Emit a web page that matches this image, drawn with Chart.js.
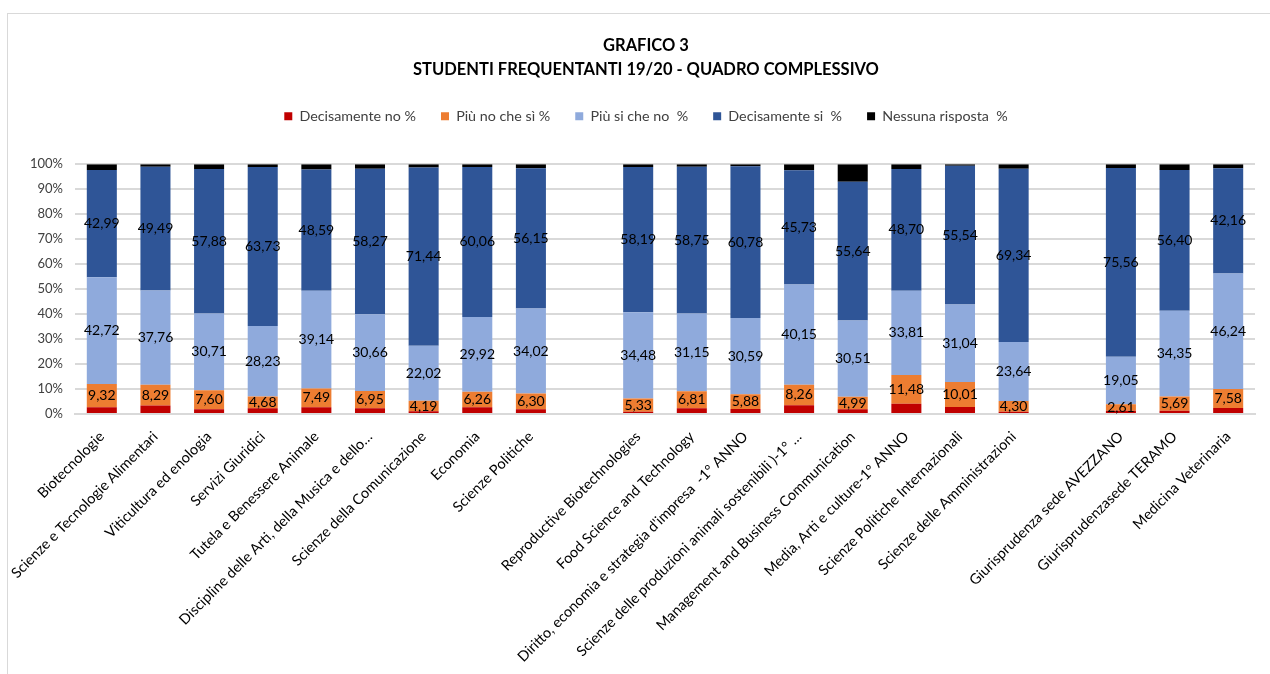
<!DOCTYPE html>
<html>
<head>
<meta charset="utf-8">
<script src="https://cdn.jsdelivr.net/npm/chart.js@4.4.1/dist/chart.umd.min.js"></script>
<style>
html, body { margin: 0; padding: 0; background: #fff; overflow: hidden; }
#frame { position: absolute; left: 7px; top: 13px; width: 1300px; height: 700px; border: 1px solid #d9d9d9; }
#wrap { position: absolute; left: 0; top: 0; width: 1270px; height: 674px; }
</style>
</head>
<body>
<div id="frame"></div>
<div id="wrap"><canvas id="myChart" width="1270" height="674"></canvas></div>
<script>
// corsi (le stringhe vuote sono gli spazi tra i gruppi)
const labels = [
    'Biotecnologie',
    'Scienze e Tecnologie Alimentari',
    'Viticultura ed enologia',
    'Servizi Giuridici',
    'Tutela e Benessere Animale',
    'Discipline delle Arti, della Musica e dello…',
    'Scienze della Comunicazione',
    'Economia',
    'Scienze Politiche',
    '',
    'Reproductive Biotechnologies',
    'Food Science and Technology',
    "Diritto, economia e strategia d'impresa  -1° ANNO",
    'Scienze delle produzioni animali sostenibili )-1° …',
    'Management and Business Communication',
    'Media, Arti e culture-1° ANNO',
    'Scienze Politiche Internazionali',
    'Scienze delle Amministrazioni',
    '',
    'Giurisprudenza sede AVEZZANO',
    'Giurisprudenzasede TERAMO',
    'Medicina Veterinaria'
];

const decisamenteNo = [2.70, 3.44, 1.90, 2.30, 2.70, 2.30, 1.10, 2.70, 1.90, null,
    0.90, 2.30, 2.00, 3.50, 1.90, 4.10, 2.80, 0.90, null, 1.30, 1.30, 2.40];
const piuNoCheSi = [9.32, 8.29, 7.60, 4.68, 7.49, 6.95, 4.19, 6.26, 6.30, null,
    5.33, 6.81, 5.88, 8.26, 4.99, 11.48, 10.01, 4.30, null, 2.61, 5.69, 7.58];
const piuSiCheNo = [42.72, 37.76, 30.71, 28.23, 39.14, 30.66, 22.02, 29.92, 34.02, null,
    34.48, 31.15, 30.59, 40.15, 30.51, 33.81, 31.04, 23.64, null, 19.05, 34.35, 46.24];
const decisamenteSi = [42.99, 49.49, 57.88, 63.73, 48.59, 58.27, 71.44, 60.06, 56.15, null,
    58.19, 58.75, 60.78, 45.73, 55.64, 48.70, 55.54, 69.34, null, 75.56, 56.40, 42.16];
const nessunaRisposta = [2.27, 1.02, 1.91, 1.06, 2.08, 1.82, 1.25, 1.06, 1.63, null,
    1.10, 0.99, 0.75, 2.36, 6.96, 1.91, 0.61, 1.82, null, 1.48, 2.26, 1.62];

const yTicks = [0, 10, 20, 30, 40, 50, 60, 70, 80, 90, 100];

const FONT = 'Lato';

// etichette dei valori al centro dei segmenti
const valueLabels = {
    id: 'valueLabels',
    afterDatasetsDraw(chart) {
        const ctx = chart.ctx;
        ctx.save();
        ctx.font = '14px ' + FONT;
        ctx.fillStyle = '#000';
        ctx.textAlign = 'center';
        ctx.textBaseline = 'middle';
        [1, 2, 3].forEach(i => {
            chart.getDatasetMeta(i).data.forEach((bar, j) => {
                const v = chart.data.datasets[i].data[j];
                if (v == null) return;
                ctx.fillText(v.toFixed(2).replace('.', ','), bar.x, (bar.y + bar.base) / 2);
            });
        });
        ctx.restore();
    }
};

// spazio extra sotto la legenda
const legendGap = {
    id: 'legendGap',
    beforeInit(chart) {
        const fit = chart.legend.fit;
        chart.legend.fit = function () {
            fit.bind(chart.legend)();
            this.height += 31;
        };
    }
};

const ctx = document.getElementById('myChart');

new Chart(ctx, {
    type: 'bar',
    data: {
        labels: labels,
        datasets: [
            { label: 'Decisamente no %', data: decisamenteNo, backgroundColor: '#C00000' },
            { label: 'Più no che sì %', data: piuNoCheSi, backgroundColor: '#ED7D31' },
            { label: 'Più si che no  %', data: piuSiCheNo, backgroundColor: '#8FAADC' },
            { label: 'Decisamente si  %', data: decisamenteSi, backgroundColor: '#2F5597' },
            { label: 'Nessuna risposta  %', data: nessunaRisposta, backgroundColor: '#000000' }
        ]
    },
    options: {
        responsive: false,
        animation: false,
        layout: { padding: { left: 22, right: 0, top: 0, bottom: 0 } },
        datasets: { bar: { barPercentage: 1, categoryPercentage: 0.56, yAxisID: 'y' } },
        plugins: {
            title: {
                display: true,
                text: ['GRAFICO 3', 'STUDENTI FREQUENTANTI 19/20 - QUADRO COMPLESSIVO'],
                color: '#000',
                font: { family: FONT, size: 16.5, weight: 'bold', lineHeight: '24px' },
                padding: { top: 34, bottom: 2 }
            },
            legend: {
                labels: {
                    color: '#404040',
                    font: { family: FONT, size: 14.3 },
                    boxWidth: 8,
                    boxHeight: 8,
                    padding: 25
                }
            },
            tooltip: { enabled: false }
        },
        scales: {
            x: {
                stacked: true,
                grid: { display: false, drawTicks: false },
                border: { color: '#d9d9d9', width: 2 },
                ticks: {
                    color: '#000',
                    font: { family: FONT, size: 14.5 },
                    minRotation: 45,
                    maxRotation: 45,
                    autoSkip: false,
                    padding: 14
                },
                afterFit(scale) { scale.height = 260; }
            },
            y: {
                stacked: true,
                min: 0,
                max: 100,
                afterBuildTicks(scale) { scale.ticks = yTicks.map(v => ({ value: v })); },
                grid: { color: '#d9d9d9', lineWidth: 2, drawTicks: false },
                border: { display: false },
                ticks: {
                    color: '#404040',
                    font: { family: FONT, size: 13 },
                    padding: 12,
                    callback: v => v + '%'
                },
                afterFit(scale) { scale.width = 53; }
            },
            // asse vuoto a destra: solo margine
            y2: {
                position: 'right',
                min: 0,
                max: 100,
                grid: { display: false, drawTicks: false },
                border: { display: false },
                ticks: { display: false },
                afterFit(scale) { scale.width = 15; }
            }
        }
    },
    plugins: [valueLabels, legendGap]
});
</script>
</body>
</html>
